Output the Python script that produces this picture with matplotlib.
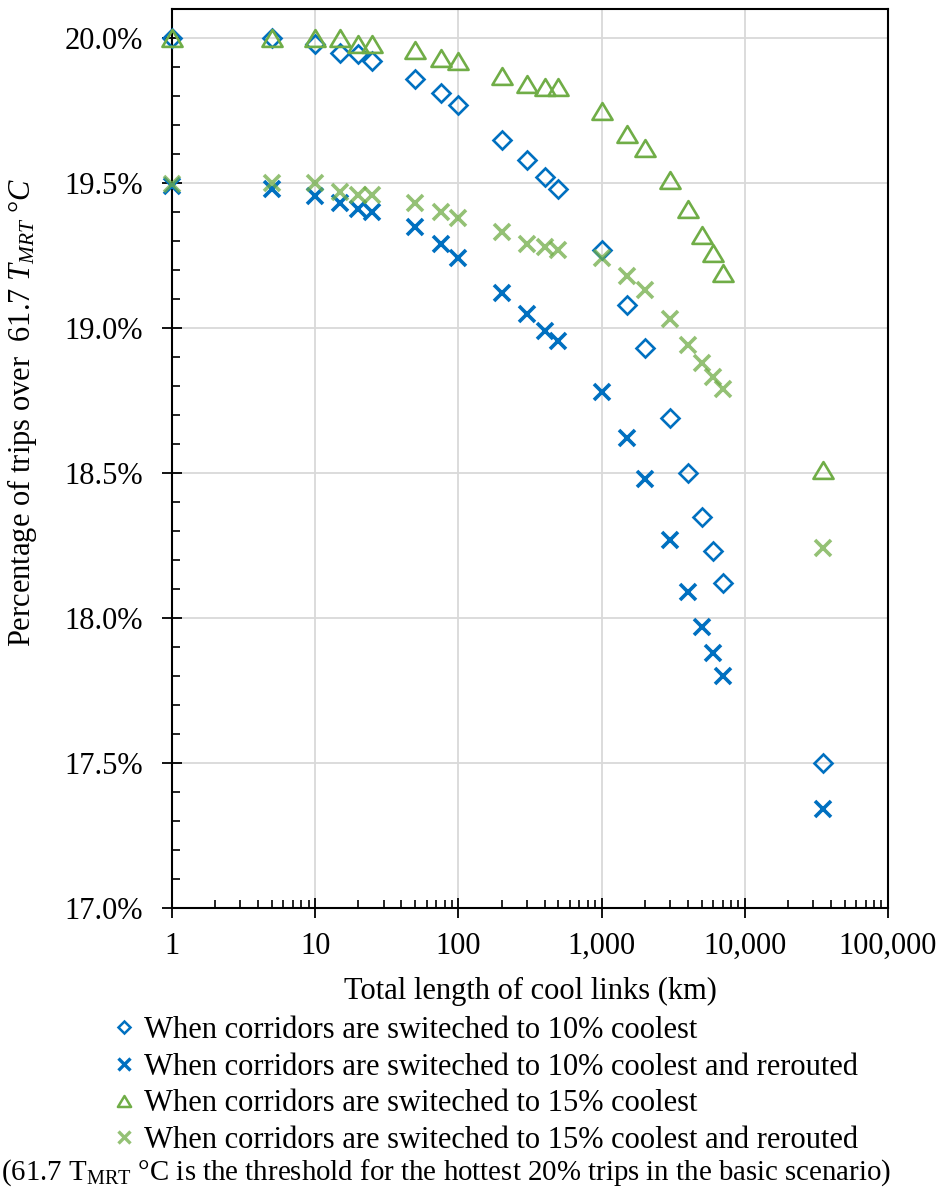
import numpy as np
import matplotlib
matplotlib.use("Agg")
import matplotlib.pyplot as plt
from matplotlib.lines import Line2D
from matplotlib.path import Path
from matplotlib.ticker import FuncFormatter, MultipleLocator, LogLocator, NullFormatter

plt.rcParams['font.family'] = ['Liberation Serif', 'DejaVu Serif']
plt.rcParams['mathtext.fontset'] = 'custom'
plt.rcParams['mathtext.rm'] = 'Liberation Serif'
plt.rcParams['mathtext.it'] = 'Liberation Serif:italic'
plt.rcParams['mathtext.bf'] = 'Liberation Serif:bold'

# total length of cool links (km)
lengths = [1, 5, 10, 15, 20, 25, 50, 75, 100, 200, 300, 400, 500,
           1000, 1500, 2000, 3000, 4000, 5000, 6000, 7000, 35000]

# percentage of trips over threshold
cool10 = [20.00, 20.00, 19.98, 19.95, 19.945, 19.92, 19.86, 19.81, 19.77, 19.65, 19.58, 19.52, 19.48,
          19.27, 19.08, 18.93, 18.69, 18.50, 18.35, 18.23, 18.12, 17.50]
cool10_rerouted = [19.49, 19.48, 19.455, 19.43, 19.41, 19.40, 19.35, 19.29, 19.24, 19.12, 19.05, 18.99, 18.955,
                   18.78, 18.62, 18.48, 18.27, 18.09, 17.97, 17.88, 17.80, 17.34]
cool15 = [20.00, 20.00, 20.00, 20.00, 19.98, 19.98, 19.96, 19.93, 19.92, 19.87, 19.84, 19.83, 19.83,
          19.75, 19.67, 19.62, 19.51, 19.41, 19.32, 19.26, 19.19, 18.51]
cool15_rerouted = [19.495, 19.50, 19.50, 19.47, 19.46, 19.46, 19.43, 19.40, 19.38, 19.33, 19.29, 19.28, 19.27,
                   19.24, 19.18, 19.13, 19.03, 18.94, 18.88, 18.83, 18.79, 18.24]

labels = ["When corridors are switeched to 10% coolest",
          "When corridors are switeched to 10% coolest and rerouted",
          "When corridors are switeched to 15% coolest",
          "When corridors are switeched to 15% coolest and rerouted"]

blue = "#0070C0"
green = "#70AD47"

# triangle centred on its bounding box (like Excel)
tri = Path([(0, 0.5), (-0.6, -0.5), (0.6, -0.5), (0, 0.5)],
           [Path.MOVETO, Path.LINETO, Path.LINETO, Path.CLOSEPOLY])

W, H = 941, 1201
fig = plt.figure(figsize=(W / 100, H / 100), dpi=100)
ax = fig.add_axes([172 / W, 1 - 908 / H, (888 - 172) / W, (908 - 9) / H])

ax.plot(lengths, cool10, ls='none', marker='D', ms=8.8, mfc='none', mec=blue, mew=1.9,
        clip_on=False, zorder=3)
ax.plot(lengths, cool10_rerouted, ls='none', marker='x', ms=12, mec=blue, mew=2.6,
        clip_on=False, zorder=3)
ax.plot(lengths, cool15, ls='none', marker=tri, ms=14.5, mfc='none', mec=green, mew=1.9,
        clip_on=False, zorder=3)
ax.plot(lengths, cool15_rerouted, ls='none', marker='x', ms=12, mec=green, mew=2.6, alpha=0.75,
        clip_on=False, zorder=3)

ax.set_xscale('log')
ax.set_xlim(1, 100000)
ax.set_ylim(17.0, 20.1)
ax.yaxis.set_major_locator(MultipleLocator(0.5))
ax.yaxis.set_minor_locator(MultipleLocator(0.1))
ax.yaxis.set_major_formatter(FuncFormatter(lambda v, p: f"{v:.1f}%"))
ax.xaxis.set_major_locator(LogLocator(base=10, numticks=10))
ax.xaxis.set_minor_locator(LogLocator(base=10, subs=np.arange(2, 10), numticks=10))
ax.xaxis.set_minor_formatter(NullFormatter())
ax.xaxis.set_major_formatter(FuncFormatter(lambda v, p: f"{int(round(v)):,}"))

ax.grid(True, which='major', color='#D9D9D9', lw=1.3, zorder=0)
ax.set_axisbelow(True)
for s in ax.spines.values():
    s.set_linewidth(1.5)
    s.set_color('black')

ax.tick_params(which='major', direction='inout', length=14, width=1.3, labelsize=22, pad=8)
ax.tick_params(which='minor', direction='in', length=6, width=1.2)
ax.tick_params(axis='y', which='major', pad=14)
ax.tick_params(axis='x', which='major', pad=10)

ax.set_xlabel("Total length of cool links (km)", fontsize=22, labelpad=12)
fig.text(22 / W, 1 - 412 / H, r"Percentage of trips over  $\mathit{61.7\ T_{MRT}\ °C}$",
         rotation=90, ha='center', va='center', fontsize=22)

handles = [
    Line2D([], [], ls='none', marker='D', ms=6.5, mfc='none', mec=blue, mew=1.8),
    Line2D([], [], ls='none', marker='x', ms=9, mec=blue, mew=2.4),
    Line2D([], [], ls='none', marker=tri, ms=9.5, mfc='none', mec=green, mew=1.8),
    Line2D([], [], ls='none', marker='x', ms=9, mec=green, mew=2.4, alpha=0.75),
]
fig.legend(handles, labels, loc='upper left', bbox_to_anchor=(112 / W, 1 - 1016 / H),
           frameon=False, fontsize=22, borderpad=0, borderaxespad=0,
           handlelength=0.8, handletextpad=0.25, labelspacing=0.25)

fig.text(446 / W, 1 - 1173 / H,
         r"(61.7 $\mathrm{T_{MRT}}$ °C is the threshold for the hottest 20% trips in the basic scenario)",
         ha='center', va='center', fontsize=20.8)

fig.savefig("out.png", dpi=100)
